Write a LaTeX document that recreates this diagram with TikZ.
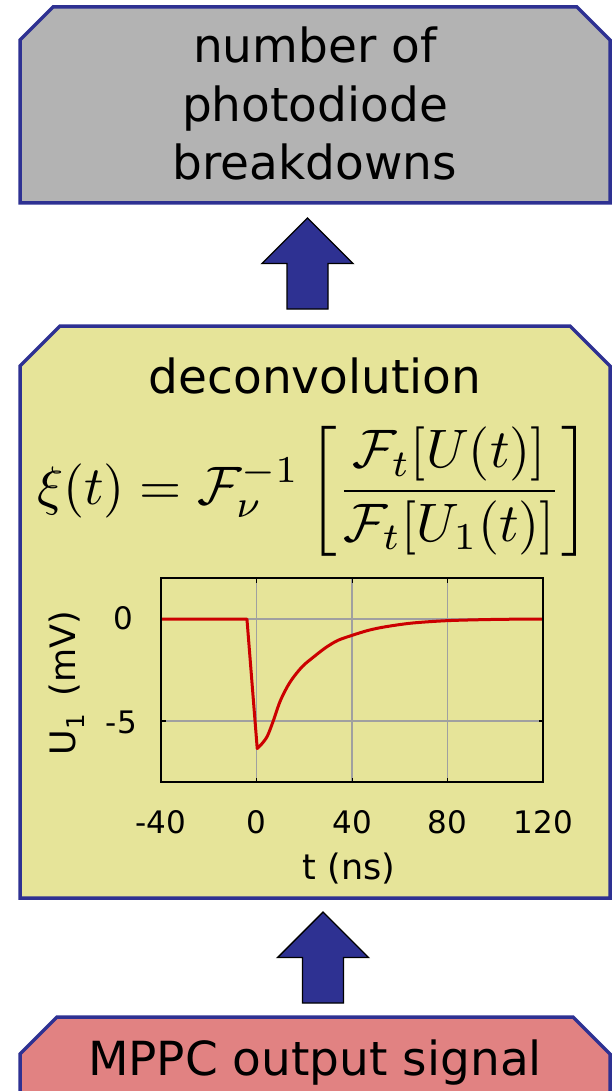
\documentclass[tikz,border=0pt]{standalone}
\usepackage[no-math]{fontspec}
\setmainfont{DejaVu Sans}
\usepackage{amsmath}
\usepackage{graphicx}
\usetikzlibrary{calc}
\definecolor{bordblue}{RGB}{46,49,146}
\definecolor{boxgray}{RGB}{179,179,179}
\definecolor{boxyellow}{RGB}{230,228,153}
\definecolor{boxpink}{RGB}{225,130,130}
\definecolor{curvered}{RGB}{204,0,0}
\definecolor{gridgray}{RGB}{160,160,160}
\newcommand\chamferbox[3]{%
  \draw[boxline, fill=#3] (#1.south west) -- ($(#1.north west)+(0,#2)$) -- ($(#1.north west)+(#2,0)$)
    -- ($(#1.north east)+(-#2,0)$) -- ($(#1.north east)+(0,#2)$) -- (#1.south east) -- cycle;}
\newcommand\upblockarrow[1]{%
  \draw[blockarrow] (#1) ++(-20.5,0) -- ++(0,-45.5) -- ++(-25,0) -- ++(45.5,-45.5)
    -- ++(45.5,45.5) -- ++(-25,0) -- ++(0,45.5) -- cycle;}
\begin{document}
\begin{tikzpicture}[x=1pt,y=-1pt,
  frame/.style={draw=none, inner sep=0pt, outer sep=0pt, rectangle},
  boxline/.style={draw=bordblue, line width=3.5pt, line join=miter},
  blockarrow/.style={draw=black, line width=1.4pt, fill=bordblue, line join=miter},
  bigtext/.style={font=\fontsize{47}{56}\selectfont, inner sep=0pt, anchor=base},
  ticklab/.style={font=\fontsize{31}{37}\selectfont, inner sep=0pt},
  axlab/.style={font=\fontsize{35}{42}\selectfont, inner sep=0pt},
  gridline/.style={draw=gridgray, line width=1.5pt},
  axisbox/.style={draw=black, line width=2pt},
  curve/.style={draw=curvered, line width=3pt, line join=round},
]
\clip (0,0) rectangle (615,1091);
\fill[white] (0,0) rectangle (615,1091);

% box frames
\node[frame, minimum width=590pt, minimum height=196pt] (top) at (315,105) {};
\node[frame, minimum width=590pt, minimum height=572pt] (mid) at (315,612) {};
\node[frame, minimum width=590pt, minimum height=123pt] (bot) at (315,1078.5) {};
\chamferbox{top}{33}{boxgray}
\chamferbox{mid}{40}{boxyellow}
\chamferbox{bot}{37}{boxpink}

% texts
\node[bigtext] (t1) at (315,63) {number of};
\node[bigtext] (t2) at (315,122) {photodiode};
\node[bigtext] (t3) at (315,180) {breakdowns};
\node[bigtext] (dec) at (315,393) {deconvolution};
\node[bigtext] (mppc) at (315,1075) {MPPC output signal};

\node[inner sep=0pt] (eq) at (313.5,491) {\resizebox{553pt}{!}{$\displaystyle \xi(t)=\mathcal{F}_\nu^{-1}\left[\frac{\mathcal{F}_t[U(t)]}{\mathcal{F}_t[U_1(t)]}\right]$}};

% block arrows
\coordinate (a1) at ($(mid.north)+(-7.5,-17)$);
\upblockarrow{a1}
\coordinate (a2) at ($(bot.north)+(8,-14)$);
\upblockarrow{a2}

% plot
\begin{scope}[shift={(256.5,619)}, x=2.39pt, y=20.4pt]
  \draw[gridline] (0,-8) -- (0,2) (40,-8) -- (40,2) (80,-8) -- (80,2)
                  (-40,0) -- (120,0) (-40,-5) -- (120,-5);
  \foreach \t in {0,40,80} {
    \draw[black, line width=1.2pt] (\t,-8) -- ++(0,0.22) (\t,2) -- ++(0,-0.22);
  }
  \foreach \v in {0,-5} {
    \draw[black, line width=1.2pt] (-40,\v) -- ++(2,0) (120,\v) -- ++(-2,0);
  }
  \draw[curve] (-40,0) -- (-4,0) -- plot[smooth, tension=0.5] coordinates {
    (0.3,-6.35) (2,-6.15) (4.5,-5.75) (7,-5.0) (10,-4.0) (14,-3.1) (19,-2.35)
    (24,-1.85) (29,-1.4) (34,-1.05) (40,-0.8) (47,-0.55) (54,-0.38) (65,-0.2)
    (80,-0.08) (100,-0.02) (120,0)};
  \draw[axisbox] (-40,-8) rectangle (120,2);
  \foreach \t/\lab/\nm in {-40/-40/xa,0/0/xb,40/40/xc,80/80/xd,120/120/xe} {
    \node[ticklab, anchor=base] (\nm) at (\t,-10.49) {\lab};
  }
  \node[ticklab, anchor=base east] (y0) at (-51.5,-0.49) {0};
  \node[ticklab, anchor=base east] (y5) at (-50,-5.59) {-5};
  \node[axlab, anchor=base] (xlab) at (38.7,-12.79) {t (ns)};
  \node[axlab, rotate=90] (ylab) at (-79.3,-3.14) {U\textsubscript{1}\hspace{6pt} (mV)};
\end{scope}
\end{tikzpicture}
\end{document}
